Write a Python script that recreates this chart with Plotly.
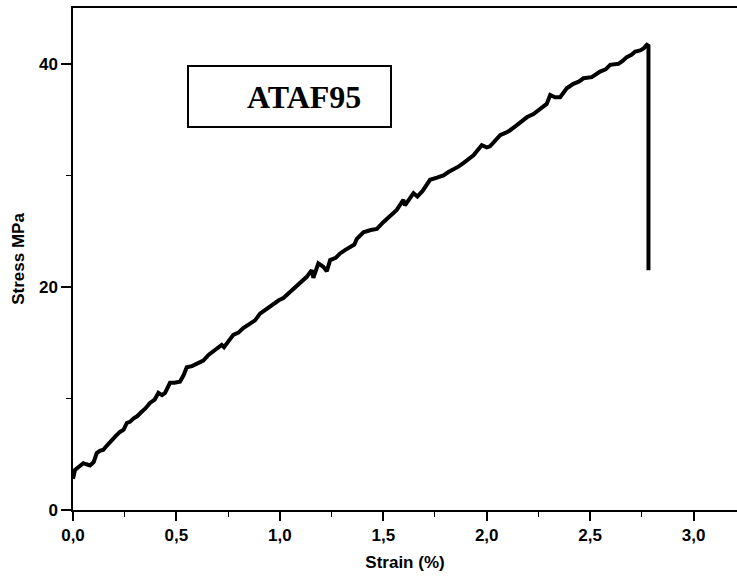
import plotly.graph_objects as go

# Strain (%) and stress (MPa)
strain = [0.000, 0.010, 0.030, 0.050, 0.065, 0.082, 0.100, 0.115, 0.130, 0.147, 0.165,
          0.187, 0.205, 0.227, 0.245, 0.260, 0.275, 0.292, 0.310, 0.332, 0.350,
          0.372, 0.395, 0.413, 0.430, 0.445, 0.458, 0.469, 0.490, 0.517, 0.535,
          0.550, 0.575, 0.598, 0.615, 0.630, 0.655, 0.678, 0.700, 0.719, 0.730,
          0.759, 0.775, 0.800, 0.823, 0.856, 0.880, 0.904, 0.935, 0.969, 0.995,
          1.017, 1.040, 1.057, 1.080, 1.098, 1.130, 1.154, 1.162, 1.186, 1.210,
          1.227, 1.243, 1.270, 1.291, 1.315, 1.339, 1.360, 1.372, 1.404, 1.440,
          1.469, 1.500, 1.533, 1.565, 1.597, 1.605, 1.646, 1.665, 1.690, 1.726,
          1.760, 1.791, 1.815, 1.839, 1.865, 1.887, 1.915, 1.936, 1.976, 2.000,
          2.016, 2.040, 2.065, 2.090, 2.110, 2.146, 2.170, 2.194, 2.226, 2.258,
          2.275, 2.290, 2.307, 2.330, 2.355, 2.387, 2.419, 2.445, 2.468, 2.508,
          2.548, 2.575, 2.597, 2.637, 2.660, 2.677, 2.700, 2.718, 2.742, 2.760,
          2.774, 2.782, 2.782]
stress = [2.8, 3.6, 3.9, 4.2, 4.1, 4.0, 4.3, 5.1, 5.3, 5.4, 5.8,
          6.3, 6.6, 7.0, 7.2, 7.8, 7.9, 8.2, 8.4, 8.8, 9.1,
          9.6, 9.9, 10.5, 10.3, 10.5, 11.1, 11.4, 11.4, 11.5, 12.1,
          12.8, 12.9, 13.1, 13.2, 13.4, 13.9, 14.2, 14.5, 14.8, 14.6,
          15.4, 15.7, 15.9, 16.3, 16.7, 17.0, 17.6, 18.0, 18.5, 18.8,
          19.0, 19.4, 19.7, 20.0, 20.3, 20.9, 21.5, 20.8, 22.1, 21.8,
          21.4, 22.4, 22.6, 23.0, 23.3, 23.6, 23.8, 24.3, 24.9, 25.1,
          25.2, 25.8, 26.4, 26.9, 27.8, 27.3, 28.4, 28.1, 28.6, 29.6,
          29.8, 30.0, 30.3, 30.5, 30.8, 31.1, 31.5, 31.8, 32.7, 32.5,
          32.6, 33.1, 33.6, 33.8, 34.0, 34.5, 34.9, 35.2, 35.5, 36.0,
          36.2, 36.4, 37.2, 37.0, 37.0, 37.8, 38.2, 38.4, 38.7, 38.8,
          39.3, 39.5, 39.9, 40.0, 40.3, 40.6, 40.8, 41.1, 41.2, 41.4,
          41.7, 41.6, 21.5]

x_ticks = [0.0, 0.5, 1.0, 1.5, 2.0, 2.5, 3.0]
x_ticklabels = ["0,0", "0,5", "1,0", "1,5", "2,0", "2,5", "3,0"]
y_ticks = [0, 20, 40]
y_ticklabels = ["0", "20", "40"]
sample_label = "ATAF95"

FONT = "Liberation Sans, Arial, sans-serif"

fig = go.Figure()
fig.add_trace(go.Scatter(
    x=strain, y=stress, mode="lines",
    line=dict(color="black", width=4),
    showlegend=False, hoverinfo="skip",
))

fig.update_layout(
    width=737, height=579,
    margin=dict(l=73, r=0, t=8, b=69),
    paper_bgcolor="white", plot_bgcolor="white",
    font=dict(family=FONT, color="black"),
    xaxis=dict(
        range=[0, 3.21], tickvals=x_ticks,
        ticktext=["<b>%s</b>" % t for t in x_ticklabels],
        ticks="outside", ticklen=9, tickwidth=1.5, tickcolor="black",
        showline=True, linecolor="black", linewidth=1.5, mirror=True,
        showgrid=False, zeroline=False,
        tickfont=dict(family=FONT, size=17, color="black"),
        minor=dict(dtick=0.25, tick0=0, ticks="outside", ticklen=5, tickcolor="black", tickwidth=1.2),
        title=dict(text="<b>Strain (%)</b>", standoff=12,
                   font=dict(family=FONT, size=17, color="black")),
    ),
    yaxis=dict(
        range=[0, 45], tickvals=y_ticks,
        ticktext=["<b>%s</b>" % t for t in y_ticklabels],
        ticks="outside", ticklen=10, tickwidth=1.5, tickcolor="black",
        showline=True, linecolor="black", linewidth=1.5, mirror=False,
        showgrid=False, zeroline=False,
        tickfont=dict(family=FONT, size=17, color="black"),
        minor=dict(dtick=10, tick0=0, ticks="outside", ticklen=5, tickcolor="black", tickwidth=1.2),
        title=dict(text="<b>Stress MPa</b>", standoff=10,
                   font=dict(family=FONT, size=17, color="black")),
    ),
)

fig.add_shape(type="rect", xref="paper", yref="paper",
              x0=(188 - 73) / 664, x1=(391 - 73) / 664,
              y0=(510 - 127) / 502, y1=(510 - 66) / 502,
              line=dict(color="black", width=2), fillcolor="white", layer="above")
fig.add_annotation(xref="paper", yref="paper",
                   x=(304 - 73) / 664, y=(510 - 97) / 502,
                   xanchor="center", yanchor="middle",
                   text="<b>%s</b>" % sample_label, showarrow=False,
                   font=dict(family="Liberation Serif, Times New Roman, serif", size=32,
                             color="black"))

fig.write_html("out.html")
